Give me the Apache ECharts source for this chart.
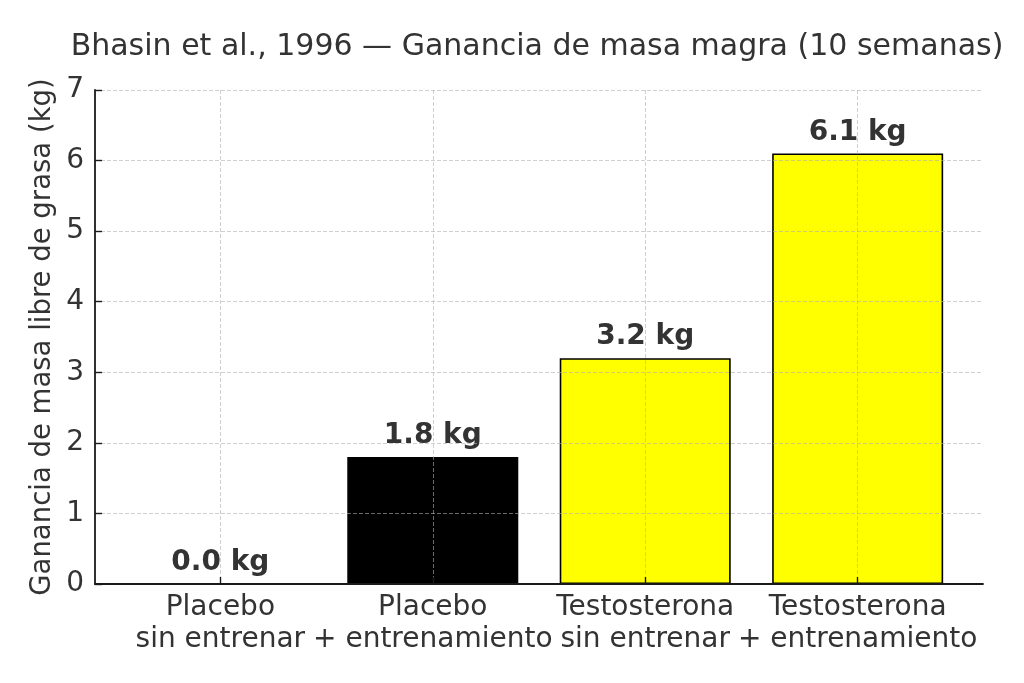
<!DOCTYPE html>
<html>
<head>
<meta charset="utf-8">
<script src="https://cdn.jsdelivr.net/npm/echarts@6/dist/echarts.min.js"></script>
<style>
  html, body { margin: 0; padding: 0; background: #fff; }
  #chart { width: 1024px; height: 683px; }
</style>
</head>
<body>
<div id="chart"></div>
<script>
// datos
var categories = [
  'Placebo\nsin entrenar',
  'Placebo\n+ entrenamiento',
  'Testosterona\nsin entrenar',
  'Testosterona\n+ entrenamiento'
];
var gains = [0.0, 1.8, 3.2, 6.1];
var barColors = ['#ffffff', '#000000', '#ffff00', '#ffff00'];
var yTicks = [0, 1, 2, 3, 4, 5, 6, 7];

var font = 'DejaVu Sans';
var textColor = '#333333';

var barData = gains.map(function (v, i) {
  return {
    value: [i, v],
    itemStyle: { color: barColors[i], borderWidth: v === 0 ? 0 : 1.6 }
  };
});

var chart = echarts.init(document.getElementById('chart'), null, { renderer: 'canvas' });

var option = {
  animation: false,
  backgroundColor: '#ffffff',
  textStyle: { fontFamily: font },
  title: {
    text: 'Bhasin et al., 1996 — Ganancia de masa magra (10 semanas)',
    left: 532,
    top: 27,
    textAlign: 'center',
    textStyle: { fontFamily: font, fontSize: 30, fontWeight: 'normal', color: textColor }
  },
  grid: { left: 95, right: 41, top: 90, bottom: 99, containLabel: false },
  xAxis: {
    type: 'value',
    min: -0.59,
    max: 3.59,
    z: 5,
    axisLine: { show: true, onZero: false, lineStyle: { color: '#1a1a1a', width: 1.8 } },
    axisTick: {
      show: true, inside: true, length: 7,
      customValues: [0, 1, 2, 3],
      lineStyle: { color: '#1a1a1a', width: 1.4 }
    },
    axisLabel: {
      customValues: [0, 1, 2, 3],
      margin: 8,
      fontFamily: font, fontSize: 28, color: textColor, lineHeight: 32,
      formatter: function (v) { return categories[Math.round(v)]; }
    },
    splitLine: {
      show: true,
      lineStyle: { color: 'rgba(176,176,176,0.6)', width: 1, type: [4, 2] }
    }
  },
  yAxis: {
    type: 'value',
    min: 0,
    max: 7,
    interval: 1,
    z: 5,
    name: 'Ganancia de masa libre de grasa (kg)',
    nameLocation: 'middle',
    nameGap: 38,
    nameMoveOverlap: false,
    nameTextStyle: { fontFamily: font, fontSize: 27.5, color: textColor },
    axisLine: { show: true, onZero: false, lineStyle: { color: '#1a1a1a', width: 1.8 } },
    axisTick: { show: true, inside: true, length: 7, lineStyle: { color: '#1a1a1a', width: 1.4 } },
    axisLabel: {
      margin: 11,
      fontFamily: font, fontSize: 28, color: textColor,
      formatter: function (v) { return yTicks.indexOf(v) >= 0 ? String(v) : ''; }
    },
    splitLine: {
      show: true,
      lineStyle: { color: 'rgba(176,176,176,0.6)', width: 1, type: [4, 2] }
    }
  },
  series: [{
    type: 'bar',
    data: barData,
    barWidth: 171,
    z: 2,
    itemStyle: { borderColor: '#000', borderWidth: 1.6 },
    label: {
      show: true,
      position: 'top',
      distance: 7,
      fontFamily: font,
      fontSize: 28,
      fontWeight: 'bold',
      color: textColor,
      formatter: function (p) { return p.value[1].toFixed(1) + ' kg'; }
    }
  }]
};

chart.setOption(option);
</script>
</body>
</html>
